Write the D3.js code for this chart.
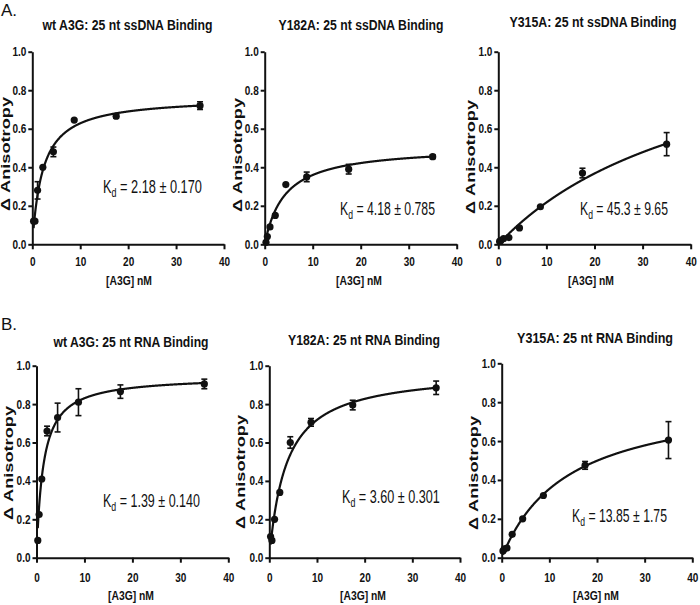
<!DOCTYPE html>
<html>
<head>
<meta charset="utf-8">
<script src="https://cdn.jsdelivr.net/npm/d3@7"></script>
<style>
  body { margin: 0; background: #fff; }
  svg { display: block; }
  text { fill: #111; }
  .tick text { font-family: "Liberation Sans", Arial, sans-serif; font-weight: bold; font-size: 12.5px; }
</style>
</head>
<body>
<svg id="chart"></svg>
<script>
// [A3G] nM, 2-fold dilution series
const conc = [0.27, 0.55, 1.1, 2.2, 4.4, 8.75, 17.5, 35]

// delta anisotropy
const wtDnaY    = [0.12, 0.12, 0.28, 0.40, 0.48, 0.645, 0.665, 0.72]
const wtDnaErr  = [0, 0, 0.045, 0, 0.025, 0, 0.01, 0.02]
const y182DnaY   = [0.01, 0.04, 0.09, 0.15, 0.31, 0.35, 0.39, 0.455]
const y182DnaErr = [0, 0, 0, 0, 0, 0.025, 0.025, 0.01]
const y315DnaY   = [0.015, 0.02, 0.03, 0.035, 0.085, 0.195, 0.37, 0.52]
const y315DnaErr = [0, 0, 0, 0, 0, 0, 0.025, 0.06]

const wtRnaY    = [0.09, 0.225, 0.41, 0.66, 0.73, 0.81, 0.865, 0.905]
const wtRnaErr  = [0, 0, 0, 0.025, 0.075, 0.07, 0.035, 0.025]
const y182RnaY   = [0.11, 0.09, 0.20, 0.34, 0.60, 0.705, 0.795, 0.885]
const y182RnaErr = [0, 0, 0, 0, 0.03, 0.02, 0.025, 0.035]
const y315RnaY   = [0.035, 0.045, 0.05, 0.12, 0.20, 0.32, 0.475, 0.605]
const y315RnaErr = [0, 0, 0, 0, 0, 0, 0.02, 0.095]

// one-site binding fit: Kd (from the labels) and Bmax (estimated)
const kdValues   = [2.18, 4.18, 45.3, 1.39, 3.60, 13.85]
const kdErrors   = ["0.170", "0.785", "9.65", "0.140", "0.301", "1.75"]
const kdLabels   = ["2.18", "4.18", "45.3", "1.39", "3.60", "13.85"]
const bmaxValues = [0.765, 0.51, 1.2, 0.946, 0.976, 0.844]

const titles = [
    "wt A3G: 25 nt ssDNA Binding", "Y182A: 25 nt ssDNA Binding", "Y315A: 25 nt ssDNA Binding",
    "wt A3G: 25 nt RNA Binding", "Y182A: 25 nt RNA Binding", "Y315A: 25 nt RNA Binding"
]
const xTicks = [0, 10, 20, 30, 40]
const yTicks = [0, 0.2, 0.4, 0.6, 0.8, 1.0]

const seriesY = [wtDnaY, y182DnaY, y315DnaY, wtRnaY, y182RnaY, y315RnaY]
const seriesErr = [wtDnaErr, y182DnaErr, y315DnaErr, wtRnaErr, y182RnaErr, y315RnaErr]

// plot boxes [left, right, top, bottom], title / Kd / labels positions
const layout = [
    { box: [32.3, 224, 51.7, 244.3], title: [127.5, 30, 170], kd: [103, 193, 99], ylab: [6, 154], xlab: [129, 285], tickY: 266 },
    { box: [264.7, 456.7, 51.7, 244.3], title: [361, 30, 165], kd: [340, 215, 95], ylab: [238, 155], xlab: [359, 285], tickY: 266 },
    { box: [498.3, 690.7, 51.7, 244.3], title: [593, 27, 167], kd: [580, 215, 88], ylab: [471, 157], xlab: [591, 285], tickY: 266 },
    { box: [36.5, 228.3, 365.7, 557.7], title: [131, 347, 155], kd: [103, 507, 97], ylab: [9, 463], xlab: [131, 600], tickY: 582 },
    { box: [269.3, 460, 365.7, 557.7], title: [364, 345, 152], kd: [342, 503, 98], ylab: [241, 472], xlab: [363, 600], tickY: 582 },
    { box: [501.7, 692.3, 363.3, 557.7], title: [595, 343, 156], kd: [572, 522, 95], ylab: [474, 473], xlab: [596, 600], tickY: 582 }
]

const sans = '"Liberation Sans", Arial, sans-serif'

const svg = d3.select("#chart").attr("width", 700).attr("height", 605)

svg.append("text").attr("x", 1).attr("y", 16).text("A.")
    .style("font-family", sans).style("font-size", "17px")
svg.append("text").attr("x", 1).attr("y", 330).text("B.")
    .style("font-family", sans).style("font-size", "17px")

// squeeze a text horizontally (the original uses a condensed face)
function squeeze(sel, k) {
    sel.each(function () {
        const w = this.getComputedTextLength()
        d3.select(this).attr("textLength", w * k).attr("lengthAdjust", "spacingAndGlyphs")
    })
}

layout.forEach((L, i) => {
    const [left, right, top, bottom] = L.box
    const x = d3.scaleLinear().domain([0, 40]).range([left, right])
    const y = d3.scaleLinear().domain([0, 1]).range([bottom, top])
    const g = svg.append("g")

    // axes
    const xAxis = g.append("g")
        .attr("transform", `translate(0, ${bottom})`)
        .call(d3.axisBottom(x).tickValues(xTicks).tickSizeInner(5).tickSizeOuter(0))
    xAxis.selectAll("text").attr("dy", null).attr("y", L.tickY - bottom)
    const yAxis = g.append("g")
        .attr("transform", `translate(${left}, 0)`)
        .call(d3.axisLeft(y).tickValues(yTicks).tickFormat(d3.format(".1f")).tickSizeInner(4).tickSizeOuter(0).tickPadding(2))
    g.selectAll(".domain").attr("stroke", "#111").attr("stroke-width", 2)
    g.selectAll(".tick line").attr("stroke", "#111").attr("stroke-width", 2)
    squeeze(xAxis.selectAll("text"), 0.8)
    squeeze(yAxis.selectAll("text"), 0.8)

    // fit curve
    const kd = kdValues[i], bmax = bmaxValues[i]
    const xs = d3.range(conc[0], 35.001, 0.05)
    g.append("path")
        .datum(xs)
        .attr("fill", "none")
        .attr("stroke", "#111")
        .attr("stroke-width", 2.2)
        .attr("d", d3.line().x(d => x(d)).y(d => y(bmax * d / (kd + d))))

    // error bars
    const pts = conc.map((c, j) => ({ c: c, v: seriesY[i][j], e: seriesErr[i][j] }))
    const eb = g.append("g").attr("stroke", "#111").attr("stroke-width", 1.6)
    pts.filter(d => d.e > 0).forEach(d => {
        eb.append("line").attr("x1", x(d.c)).attr("x2", x(d.c)).attr("y1", y(d.v - d.e)).attr("y2", y(d.v + d.e))
        eb.append("line").attr("x1", x(d.c) - 3).attr("x2", x(d.c) + 3).attr("y1", y(d.v - d.e)).attr("y2", y(d.v - d.e))
        eb.append("line").attr("x1", x(d.c) - 3).attr("x2", x(d.c) + 3).attr("y1", y(d.v + d.e)).attr("y2", y(d.v + d.e))
    })

    // points
    g.selectAll("circle.pt")
        .data(pts)
        .enter()
        .append("circle")
        .attr("class", "pt")
        .attr("cx", d => x(d.c))
        .attr("cy", d => y(d.v))
        .attr("r", 3.6)
        .attr("fill", "#111")

    // title
    g.append("text")
        .attr("x", L.title[0]).attr("y", L.title[1])
        .attr("text-anchor", "middle")
        .attr("textLength", L.title[2]).attr("lengthAdjust", "spacingAndGlyphs")
        .style("font-family", sans).style("font-weight", "bold").style("font-size", "14px")
        .text(titles[i])

    // Kd label, condensed with a horizontal scale
    const kg = g.append("g")
    const kt = kg.append("text")
        .attr("x", 0).attr("y", 0)
        .style("font-family", sans).style("font-size", "18.5px")
    kt.append("tspan").text("K")
    kt.append("tspan").attr("dy", 4).style("font-size", "13px").text("d")
    kt.append("tspan").attr("dy", -4).text(` = ${kdLabels[i]} \u00b1 ${kdErrors[i]}`)
    const kw = kt.node().getBBox().width
    kg.attr("transform", `translate(${L.kd[0]}, ${L.kd[1]}) scale(${L.kd[2] / kw}, 1)`)

    // axis titles
    g.append("text")
        .attr("transform", `translate(${L.ylab[0]}, ${L.ylab[1]}) rotate(-90)`)
        .attr("text-anchor", "middle")
        .attr("dy", "0.35em")
        .attr("textLength", 114).attr("lengthAdjust", "spacingAndGlyphs")
        .style("font-family", sans).style("font-weight", "bold").style("font-size", "12px")
        .text("\u0394 Anisotropy")
    g.append("text")
        .attr("x", L.xlab[0]).attr("y", L.xlab[1])
        .attr("text-anchor", "middle")
        .attr("textLength", 46).attr("lengthAdjust", "spacingAndGlyphs")
        .style("font-family", sans).style("font-weight", "bold").style("font-size", "13.5px")
        .text("[A3G] nM")
})
</script>
</body>
</html>
